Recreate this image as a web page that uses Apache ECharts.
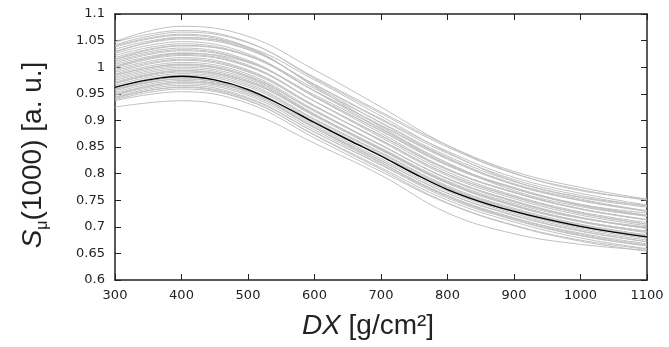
<!DOCTYPE html>
<html>
<head>
<meta charset="utf-8">
<script src="https://cdn.jsdelivr.net/npm/echarts@6/dist/echarts.min.js"></script>
<style>
  html, body {margin: 0; padding: 0; background: #fff;}
  #chart {width: 669px; height: 347px;}
</style>
</head>
<body>
<div id="chart"></div>
<script>
// slant depth values, fine grid for the mean curve, coarse grid for the single events
const dxFine = [300, 350, 400, 450, 500, 550, 600, 650, 700, 750, 800, 850, 900, 950, 1000, 1050, 1100];
const dxCoarse = [300, 400, 500, 600, 700, 800, 900, 1000, 1100];
const yTicks = [0.6, 0.65, 0.7, 0.75, 0.8, 0.85, 0.9, 0.95, 1, 1.05, 1.1];

// black curve
const meanCurve = [0.962, 0.976, 0.983, 0.976, 0.958, 0.929, 0.896, 0.864, 0.833, 0.800, 0.770, 0.747, 0.729, 0.714, 0.701, 0.690, 0.681];

// grey curves, read at 300..1100 step 100
const eventCurves = [
  [1.048, 1.077, 1.058, 0.995, 0.925, 0.853, 0.801, 0.768, 0.752],
  [1.047, 1.069, 1.047, 0.979, 0.913, 0.850, 0.800, 0.770, 0.750],
  [1.042, 1.066, 1.046, 0.981, 0.916, 0.853, 0.804, 0.774, 0.752],
  [1.040, 1.062, 1.038, 0.963, 0.888, 0.820, 0.768, 0.738, 0.720],
  [1.038, 1.060, 1.036, 0.965, 0.895, 0.830, 0.780, 0.750, 0.730],
  [1.034, 1.056, 1.034, 0.967, 0.901, 0.838, 0.789, 0.759, 0.739],
  [1.030, 1.053, 1.033, 0.968, 0.903, 0.842, 0.793, 0.763, 0.741],
  [1.028, 1.055, 1.038, 0.976, 0.908, 0.840, 0.786, 0.755, 0.737],
  [1.026, 1.048, 1.025, 0.955, 0.885, 0.820, 0.772, 0.742, 0.722],
  [1.022, 1.044, 1.022, 0.955, 0.890, 0.827, 0.779, 0.749, 0.729],
  [1.018, 1.041, 1.021, 0.956, 0.891, 0.829, 0.781, 0.752, 0.730],
  [1.015, 1.040, 1.022, 0.960, 0.896, 0.833, 0.785, 0.756, 0.740],
  [1.014, 1.036, 1.013, 0.944, 0.876, 0.809, 0.765, 0.734, 0.714],
  [1.011, 1.033, 1.011, 0.945, 0.880, 0.815, 0.772, 0.740, 0.720],
  [1.008, 1.031, 1.010, 0.945, 0.881, 0.817, 0.774, 0.742, 0.721],
  [1.005, 1.027, 1.004, 0.936, 0.868, 0.803, 0.759, 0.728, 0.708],
  [1.002, 1.024, 1.002, 0.936, 0.871, 0.807, 0.764, 0.733, 0.713],
  [1.000, 1.026, 1.009, 0.948, 0.884, 0.817, 0.772, 0.742, 0.726],
  [0.999, 1.022, 1.001, 0.936, 0.872, 0.808, 0.765, 0.734, 0.713],
  [0.996, 1.018, 0.995, 0.928, 0.861, 0.796, 0.753, 0.722, 0.702],
  [0.993, 1.015, 0.993, 0.927, 0.863, 0.799, 0.756, 0.725, 0.705],
  [0.990, 1.013, 0.991, 0.926, 0.863, 0.799, 0.757, 0.726, 0.705],
  [0.987, 1.009, 0.987, 0.920, 0.854, 0.790, 0.747, 0.717, 0.697],
  [0.985, 1.005, 0.981, 0.912, 0.845, 0.782, 0.739, 0.710, 0.692],
  [0.984, 1.006, 0.984, 0.918, 0.854, 0.791, 0.749, 0.718, 0.698],
  [0.981, 1.003, 0.982, 0.917, 0.853, 0.791, 0.748, 0.717, 0.697],
  [0.978, 1.000, 0.978, 0.911, 0.847, 0.784, 0.741, 0.711, 0.691],
  [0.975, 0.997, 0.975, 0.910, 0.846, 0.783, 0.741, 0.711, 0.691],
  [0.972, 0.994, 0.973, 0.908, 0.844, 0.782, 0.740, 0.709, 0.689],
  [0.970, 0.993, 0.972, 0.910, 0.848, 0.786, 0.744, 0.716, 0.700],
  [0.969, 0.991, 0.969, 0.903, 0.840, 0.777, 0.735, 0.705, 0.685],
  [0.966, 0.988, 0.966, 0.901, 0.838, 0.775, 0.733, 0.703, 0.683],
  [0.963, 0.985, 0.963, 0.898, 0.835, 0.773, 0.731, 0.701, 0.681],
  [0.959, 0.981, 0.959, 0.894, 0.832, 0.770, 0.728, 0.698, 0.678],
  [0.958, 0.978, 0.954, 0.886, 0.821, 0.757, 0.714, 0.684, 0.664],
  [0.956, 0.978, 0.956, 0.891, 0.828, 0.767, 0.725, 0.695, 0.675],
  [0.953, 0.975, 0.953, 0.888, 0.825, 0.763, 0.721, 0.692, 0.672],
  [0.950, 0.972, 0.950, 0.886, 0.824, 0.763, 0.722, 0.692, 0.672],
  [0.948, 0.972, 0.955, 0.895, 0.834, 0.772, 0.729, 0.700, 0.684],
  [0.947, 0.969, 0.947, 0.882, 0.820, 0.759, 0.717, 0.688, 0.668],
  [0.944, 0.966, 0.943, 0.878, 0.816, 0.754, 0.713, 0.683, 0.664],
  [0.943, 0.962, 0.938, 0.872, 0.808, 0.745, 0.703, 0.675, 0.658],
  [0.941, 0.963, 0.941, 0.878, 0.817, 0.757, 0.716, 0.686, 0.666],
  [0.939, 0.959, 0.937, 0.873, 0.811, 0.750, 0.709, 0.679, 0.659],
  [0.937, 0.954, 0.932, 0.867, 0.804, 0.744, 0.702, 0.673, 0.654],
  [0.925, 0.937, 0.915, 0.857, 0.797, 0.726, 0.687, 0.667, 0.656]
];

const axisColor = '#222';
const tickFont = {color: axisColor, fontSize: 13, fontFamily: 'DejaVu Sans'};
const fmtY = v => String(+v.toFixed(2));
const fmtX = v => String(v);

const grey = eventCurves.map(c => ({
  type: 'line',
  data: c.map((v, i) => [dxCoarse[i], v]),
  smooth: 0.4,
  symbol: 'none',
  silent: true,
  lineStyle: {color: '#c0c0c0', width: 1}
}));

const chart = echarts.init(document.getElementById('chart'));
chart.setOption({
  animation: false,
  grid: {left: 115, right: 22, top: 14, bottom: 67},
  xAxis: [{
    type: 'value', min: 300, max: 1100, interval: 100,
    axisLine: {show: true, lineStyle: {color: axisColor, width: 1.5}},
    axisTick: {show: true, inside: true, length: 6, lineStyle: {color: axisColor}},
    axisLabel: Object.assign({margin: 9, formatter: fmtX}, tickFont),
    splitLine: {show: false}
  }, {
    type: 'value', position: 'top', min: 300, max: 1100, interval: 100,
    axisLine: {show: true, lineStyle: {color: axisColor, width: 1.5}},
    axisTick: {show: true, inside: true, length: 6, lineStyle: {color: axisColor}},
    axisLabel: {show: false},
    splitLine: {show: false}
  }],
  yAxis: [{
    type: 'value', min: yTicks[0], max: yTicks[yTicks.length - 1], interval: 0.05,
    axisLine: {show: true, lineStyle: {color: axisColor, width: 1.5}},
    axisTick: {show: true, inside: true, length: 6, lineStyle: {color: axisColor}},
    axisLabel: Object.assign({margin: 10, formatter: fmtY}, tickFont),
    splitLine: {show: false}
  }, {
    type: 'value', position: 'right', min: yTicks[0], max: yTicks[yTicks.length - 1], interval: 0.05,
    axisLine: {show: true, lineStyle: {color: axisColor, width: 1.5}},
    axisTick: {show: true, inside: true, length: 6, lineStyle: {color: axisColor}},
    axisLabel: {show: false},
    splitLine: {show: false}
  }],
  graphic: [{
    type: 'text', x: 368, y: 326,
    style: {
      text: '{i|DX} [g/cm²]',
      fontSize: 28, fontFamily: 'Liberation Sans', fill: axisColor,
      align: 'center', verticalAlign: 'middle',
      rich: {i: {fontStyle: 'italic', fontSize: 28, fontFamily: 'Liberation Sans'}}
    }
  }, {
    type: 'text', x: 33, y: 155, rotation: Math.PI / 2,
    style: {
      text: '{i|S}{sub|μ}(1000) [a. u.]',
      fontSize: 28, fontFamily: 'Liberation Sans', fill: axisColor,
      align: 'center', verticalAlign: 'middle',
      rich: {
        i: {fontStyle: 'italic', fontSize: 28, fontFamily: 'Liberation Sans'},
        sub: {fontSize: 16, fontFamily: 'Liberation Sans', verticalAlign: 'bottom', padding: [20, 0, 0, 0]}
      }
    }
  }],
  series: grey.concat([{
    type: 'line',
    data: meanCurve.map((v, i) => [dxFine[i], v]),
    smooth: 0.4,
    symbol: 'none',
    silent: true,
    z: 5,
    lineStyle: {color: '#000', width: 1.3}
  }])
});
</script>
</body>
</html>
